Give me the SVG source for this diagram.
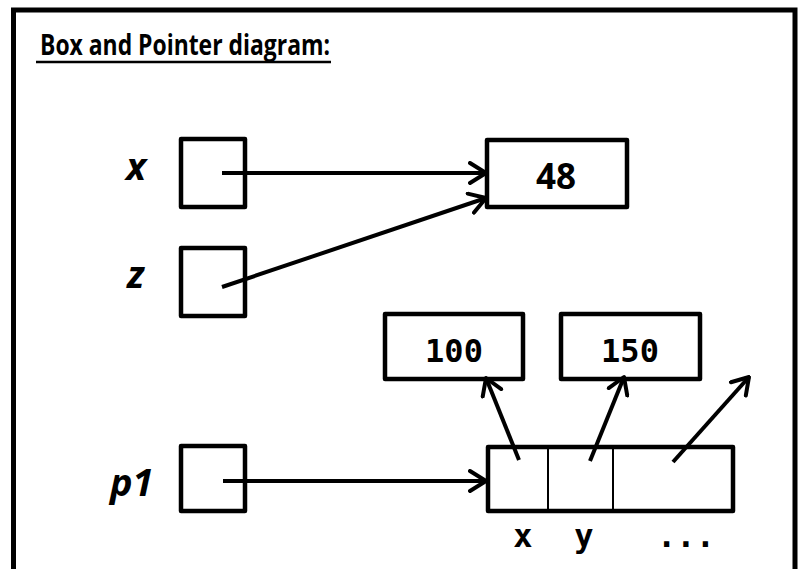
<svg xmlns="http://www.w3.org/2000/svg" width="807" height="569" viewBox="0 0 807 569">
<style>
.box{fill:#fff;stroke:#000;stroke-width:4.5;stroke-linejoin:round}
.div{stroke:#000;stroke-width:2}
.conn{stroke:#000;stroke-width:4;fill:none;stroke-linecap:butt}
.lbl{font-family:"Open Sans","Liberation Sans",sans-serif;font-weight:bold;font-style:italic;font-size:38px;fill:#000}
.mono{font-family:"DejaVu Sans Mono","Liberation Mono",monospace;font-weight:bold;font-size:32px;fill:#000}
.num{font-family:"Open Sans","Liberation Sans",sans-serif;font-weight:bold;font-size:35px;fill:#000}
</style>
<defs>
<marker id="arr" viewBox="0 0 20 24" refX="18" refY="12" markerWidth="20" markerHeight="24" markerUnits="userSpaceOnUse" orient="auto">
<path d="M2,2 L18,12 L2,22" fill="none" stroke="#000" stroke-width="4" stroke-linecap="round" stroke-linejoin="round"/>
</marker>
</defs>
<rect width="807" height="569" fill="#fff"/>
<path d="M13.5,569 V10 H795 V569" fill="none" stroke="#000" stroke-width="5"/>
<g id="title">
<text x="40" y="55" font-family="Open Sans, Liberation Sans, sans-serif" font-weight="bold" font-size="29" textLength="290" lengthAdjust="spacingAndGlyphs">Box and Pointer diagram:</text>
<line x1="36" y1="62" x2="331" y2="62" stroke="#000" stroke-width="2.5"/>
</g>
<g id="var-x">
<text class="lbl" x="126" y="180">x</text>
<rect class="box" x="181" y="139" width="64" height="68"/>
</g>
<g id="var-z">
<text class="lbl" x="127" y="288">z</text>
<rect class="box" x="181" y="248" width="64" height="68"/>
</g>
<g id="val-48">
<rect class="box" x="487" y="140" width="140" height="67"/>
<text class="num" x="556" y="189" text-anchor="middle">48</text>
</g>
<g id="val-100">
<rect class="box" x="385" y="314" width="138" height="65"/>
<text class="mono" x="454" y="362" text-anchor="middle">100</text>
</g>
<g id="val-150">
<rect class="box" x="561" y="314" width="139" height="65"/>
<text class="mono" x="630" y="362" text-anchor="middle">150</text>
</g>
<g id="var-p1">
<text class="lbl" x="110" y="496">p1</text>
<rect class="box" x="181" y="446" width="64" height="65"/>
</g>
<g id="struct">
<rect class="box" x="488" y="447" width="245" height="64"/>
<line class="div" x1="548" y1="447" x2="548" y2="511"/>
<line class="div" x1="613" y1="447" x2="613" y2="511"/>
<text class="mono" x="523" y="547" text-anchor="middle">x</text>
<text class="mono" x="584" y="547" text-anchor="middle">y</text>
<text class="mono" x="686" y="547" text-anchor="middle">...</text>
</g>
<g id="connectors">
<line class="conn" x1="222" y1="173" x2="486" y2="173" marker-end="url(#arr)"/>
<line class="conn" x1="222" y1="287" x2="486" y2="198" marker-end="url(#arr)"/>
<line class="conn" x1="223" y1="481" x2="486" y2="481" marker-end="url(#arr)"/>
<line class="conn" x1="519" y1="460" x2="486" y2="378" marker-end="url(#arr)"/>
<line class="conn" x1="590" y1="461" x2="624" y2="377" marker-end="url(#arr)"/>
<line class="conn" x1="673" y1="462" x2="749" y2="377" marker-end="url(#arr)"/>
</g>
</svg>
